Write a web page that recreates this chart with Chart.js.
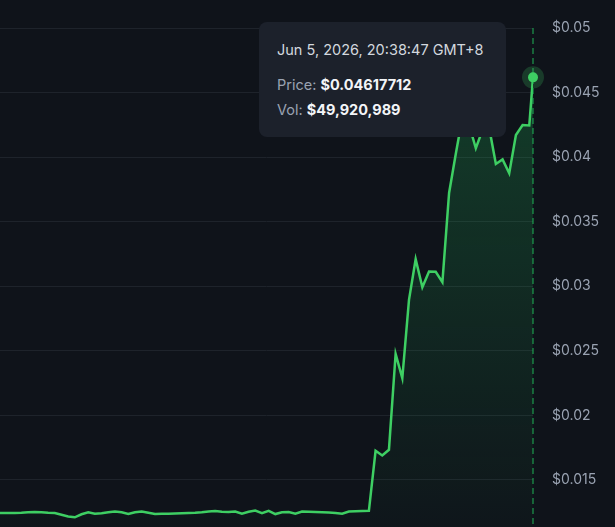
<!DOCTYPE html>
<html>
<head>
<meta charset="utf-8">
<script src="https://cdn.jsdelivr.net/npm/chart.js@4.4.1/dist/chart.umd.min.js"></script>
<style>
  html, body { margin: 0; padding: 0; background: #0f131a; overflow: hidden; }
  #wrap { position: relative; width: 615px; height: 527px; }
  #tip {
    position: absolute; display: none; box-sizing: border-box;
    width: 247px; height: 115px;
    background: #1c212b; border-radius: 8px;
    padding: 18px 14px 14px 18px;
    font-family: Inter, "Noto Sans", sans-serif; font-size: 14.5px;
    white-space: nowrap; pointer-events: none;
  }
  #tip .t { color: #d3d8df; font-size: 14.5px; line-height: 20px; margin-bottom: 12px; }
  #tip .r { line-height: 25px; color: #9aa3b2; }
  #tip .r b { color: #f3f5f8; font-weight: 700; }
</style>
</head>
<body>
<div id="wrap">
  <canvas id="c" width="615" height="527"></canvas>
  <div id="tip"></div>
</div>
<script>
// ---- data ----
// 5-minute prices (GMT+8), first point 13:56, then a final live point at 20:38:47
const prices = [
  0.012438, 0.012438, 0.012446, 0.012438, 0.012461, 0.012500, 0.012516, 0.012500, 0.012461, 0.012438,
  0.012307, 0.012175, 0.012113, 0.012345, 0.012500, 0.012384, 0.012423, 0.012500, 0.012562, 0.012500,
  0.012361, 0.012500, 0.012562, 0.012461, 0.012361, 0.012384, 0.012384, 0.012400, 0.012423, 0.012438,
  0.012461, 0.012500, 0.012562, 0.012593, 0.012539, 0.012516, 0.012562, 0.012384, 0.012539, 0.012632,
  0.012438, 0.012616, 0.012361, 0.012500, 0.012516, 0.012384, 0.012562, 0.012539, 0.012516, 0.012500,
  0.012484, 0.012438, 0.012384, 0.012562, 0.012577, 0.012593, 0.012616, 0.017260, 0.016896, 0.017337,
  0.024768, 0.022887, 0.028947, 0.032097, 0.029930, 0.031138, 0.031120, 0.030317, 0.037229, 0.040248,
  0.043111, 0.042492, 0.040689, 0.042105, 0.042260, 0.039474, 0.039822, 0.038754, 0.041718, 0.042492,
  0.042453, 0.04617712
];
const lastVolume = 49920989;
const tickValues = [0.015, 0.02, 0.025, 0.03, 0.035, 0.04, 0.045, 0.05];
const yMin = 0.01136, yMax = 0.05;

const firstTime = Date.UTC(2026, 5, 5, 5, 56, 0);   // 13:56 GMT+8
const liveTime  = Date.UTC(2026, 5, 5, 12, 38, 47); // 20:38:47 GMT+8
const times = [];
for (let i = 0; i < prices.length - 1; i++) times.push(firstTime + i * 300000);
times.push(liveTime);
const xMin = Date.UTC(2026, 5, 5, 6, 0, 0);          // 14:00 GMT+8
const xMax = liveTime;

const MONTHS = ['Jan','Feb','Mar','Apr','May','Jun','Jul','Aug','Sep','Oct','Nov','Dec'];
function fmtTime(t) {
  const d = new Date(t + 8 * 3600000);
  const p = n => String(n).padStart(2, '0');
  return MONTHS[d.getUTCMonth()] + ' ' + d.getUTCDate() + ', ' + d.getUTCFullYear() + ', ' +
    p(d.getUTCHours()) + ':' + p(d.getUTCMinutes()) + ':' + p(d.getUTCSeconds()) + ' GMT+8';
}

const tipEl = document.getElementById('tip');
function showTip(chart, index, caretX) {
  tipEl.innerHTML =
    '<div class="t">' + fmtTime(times[index]) + '</div>' +
    '<div class="r">Price: <b>$' + prices[index].toFixed(8) + '</b></div>' +
    '<div class="r">Vol: <b>$' + lastVolume.toLocaleString('en-US') + '</b></div>';
  tipEl.style.display = 'block';
  tipEl.style.left = (caretX - 27 - 247) + 'px';
  tipEl.style.top = (chart.chartArea.top - 6) + 'px';
}

const hoverPlugin = {
  id: 'hoverMark',
  afterDatasetsDraw(chart) {
    const meta = chart.getDatasetMeta(0);
    const p = meta.data[meta.data.length - 1];
    const { ctx, chartArea } = chart;
    ctx.save();
    ctx.strokeStyle = 'rgba(34,197,94,0.6)';
    ctx.lineWidth = 1.5;
    ctx.setLineDash([6, 4]);
    ctx.beginPath();
    ctx.moveTo(p.x, chartArea.top);
    ctx.lineTo(p.x, chartArea.bottom);
    ctx.stroke();
    ctx.setLineDash([]);
    ctx.fillStyle = 'rgba(62,207,99,0.22)';
    ctx.beginPath(); ctx.arc(p.x, p.y, 11, 0, Math.PI * 2); ctx.fill();
    ctx.fillStyle = '#3ecf63';
    ctx.beginPath(); ctx.arc(p.x, p.y, 5, 0, Math.PI * 2); ctx.fill();
    ctx.restore();
  }
};

const chart = new Chart(document.getElementById('c'), {
  type: 'line',
  data: {
    labels: times,
    datasets: [{
      data: prices,
      borderColor: '#3ecf63',
      borderWidth: 2.5,
      pointRadius: 0,
      pointHoverRadius: 0,
      tension: 0,
      fill: 'start',
      backgroundColor: (c) => {
        const { ctx, chartArea } = c.chart;
        if (!chartArea) return 'transparent';
        const g = ctx.createLinearGradient(0, chartArea.top, 0, chartArea.bottom);
        g.addColorStop(0, 'rgba(34,197,94,0.26)');
        g.addColorStop(1, 'rgba(34,197,94,0.02)');
        return g;
      }
    }]
  },
  options: {
    responsive: false,
    animation: false,
    events: [],
    layout: { padding: { top: 28, left: 0, right: 0, bottom: 0 } },
    scales: {
      x: { type: 'linear', display: false, min: xMin, max: xMax },
      y: {
        position: 'right',
        min: yMin, max: yMax,
        border: { display: false },
        grid: { color: '#1e232b', lineWidth: 1, drawTicks: false },
        ticks: {
          color: '#9aa3b2', padding: 19,
          font: { family: 'Inter', size: 14 },
          callback: (v) => '$' + v
        },
        afterBuildTicks: (s) => { s.ticks = tickValues.map(v => ({ value: v })); },
        afterFit: (s) => { s.width = 82; s.paddingTop = 0; s.paddingBottom = 0; }
      }
    },
    plugins: {
      legend: { display: false },
      tooltip: {
        enabled: false,
        external: (context) => {
          const { chart, tooltip } = context;
          if (tooltip.opacity === 0 || !tooltip.dataPoints || !tooltip.dataPoints.length) return;
          showTip(chart, tooltip.dataPoints[0].dataIndex, tooltip.caretX);
        }
      }
    }
  },
  plugins: [hoverPlugin]
});

const lastIndex = prices.length - 1;
const lastPt = chart.getDatasetMeta(0).data[lastIndex];
try {
  chart.tooltip.setActiveElements([{ datasetIndex: 0, index: lastIndex }], { x: lastPt.x, y: lastPt.y });
} catch (e) {}
if (tipEl.style.display !== 'block') showTip(chart, lastIndex, lastPt.x);
</script>
</body>
</html>
